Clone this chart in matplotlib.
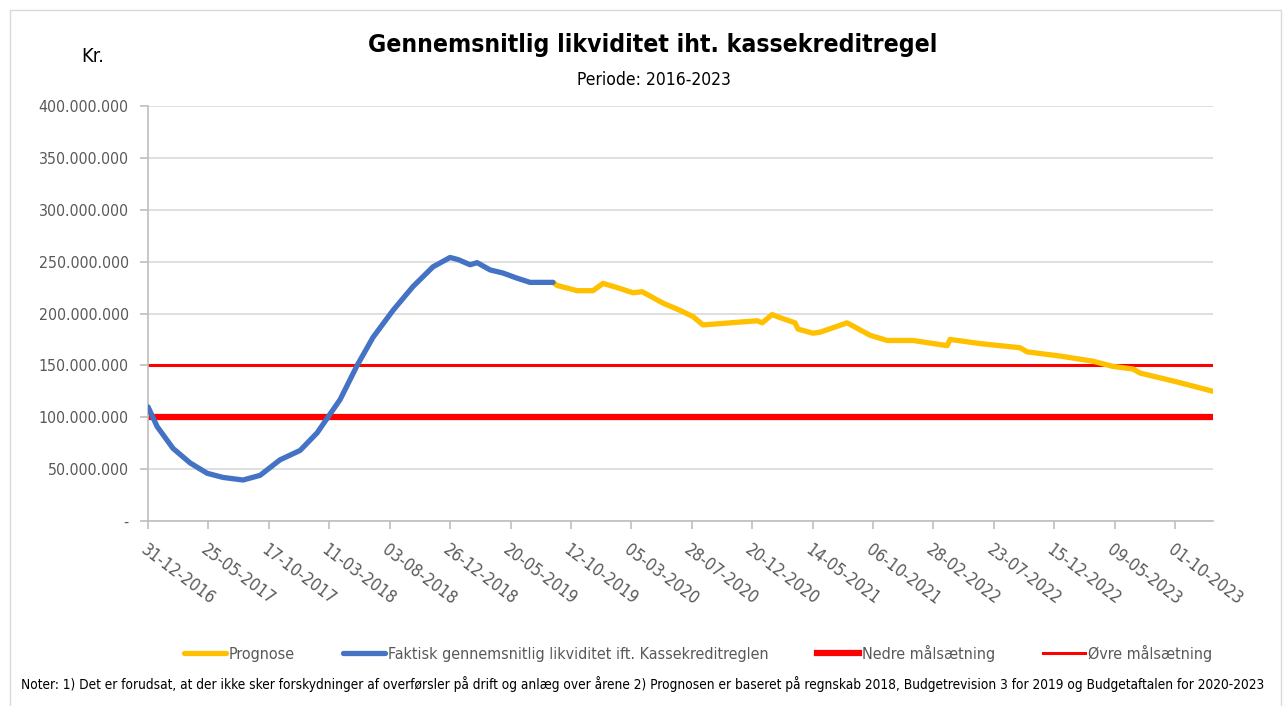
import numpy as np
import pandas as pd
import matplotlib.pyplot as plt
from matplotlib.ticker import FuncFormatter
from matplotlib.patches import Rectangle

plt.rcParams['font.family'] = ['DejaVu Sans']
plt.rcParams['font.stretch'] = 'condensed'

start = pd.Timestamp('2016-12-31')

# faktisk likviditet (dage efter 31-12-2016, mio. kr.)
faktisk_dage = [0, 22, 60, 101, 142, 180, 228, 269, 317, 365, 406, 430, 461, 502,
                540, 588, 636, 684, 725, 744, 773, 790, 821, 852, 886, 917, 972]
faktisk_mio = [110, 91, 70, 56, 46, 42, 39.5, 44, 59, 68, 85, 99, 117, 150,
               177, 203, 226, 245, 254, 252, 247, 249, 242, 239, 234, 230, 230]

# prognose
prognose_dage = [972, 982, 1030, 1068, 1092, 1126, 1164, 1186, 1236, 1277, 1308, 1332,
                 1397, 1462, 1474, 1498, 1517, 1553, 1560, 1596, 1613, 1678, 1733,
                 1774, 1836, 1918, 1925, 1997, 2093, 2110, 2189, 2268, 2316, 2364,
                 2381, 2470, 2556]
prognose_mio = [230, 227, 222, 222, 229, 225, 220, 221, 210, 203, 197, 189,
                191, 193, 191, 199, 196, 191, 185, 181, 182, 191, 179,
                174, 174, 169, 175, 171, 167, 163, 159, 154, 149, 146.5,
                142.6, 134, 125]

nedre = 100_000_000
oevre = 150_000_000

tick_labels = ['31-12-2016', '25-05-2017', '17-10-2017', '11-03-2018', '03-08-2018',
               '26-12-2018', '20-05-2019', '12-10-2019', '05-03-2020', '28-07-2020',
               '20-12-2020', '14-05-2021', '06-10-2021', '28-02-2022', '23-07-2022',
               '15-12-2022', '09-05-2023', '01-10-2023']

titel = 'Gennemsnitlig likviditet iht. kassekreditregel'
undertitel = 'Periode: 2016-2023'
note = ('Noter: 1) Det er forudsat, at der ikke sker forskydninger af overførsler på drift og anlæg over årene '
        '2) Prognosen er baseret på regnskab 2018, Budgetrevision 3 for 2019 og Budgetaftalen for 2020-2023')

fx = start + pd.to_timedelta(faktisk_dage, unit='D')
px = start + pd.to_timedelta(prognose_dage, unit='D')
fy = np.array(faktisk_mio) * 1e6
py = np.array(prognose_mio) * 1e6

fig = plt.figure(figsize=(12.88, 7.06), dpi=100)
renderer = fig.canvas.get_renderer()


# skriftstørrelse så teksten får samme bredde som i originalen (smal skrift)
def fit(s, width_px, **kw):
    t = fig.text(0, 0, s, fontsize=10, **kw)
    w = t.get_window_extent(renderer).width
    t.remove()
    return 10 * width_px / w


ax = fig.add_axes([148/1288, 1 - 521/706, (1213-148)/1288, (521-106)/706])

fig.patches.append(Rectangle((10/1288, -0.02), 1271/1288, 1.02 - 10/706, transform=fig.transFigure,
                             fill=False, edgecolor='#D9D9D9', linewidth=1))

ax.plot(px, py, color='#FFC000', linewidth=3.8, label='Prognose', zorder=3, solid_capstyle='round')
ax.plot(fx, fy, color='#4472C4', linewidth=3.8,
        label='Faktisk gennemsnitlig likviditet ift. Kassekreditreglen', zorder=4, solid_capstyle='round')
ax.axhline(nedre, color='#FF0000', linewidth=4.5, label='Nedre målsætning', zorder=2)
ax.axhline(oevre, color='#FF0000', linewidth=2.2, label='Øvre målsætning', zorder=2)

ax.set_xlim(start, start + pd.Timedelta(days=2556))
ax.set_ylim(0, 400_000_000)
ax.set_yticks(np.arange(0, 400_000_001, 50_000_000))
ax.yaxis.set_major_formatter(FuncFormatter(lambda v, p: '-' if v == 0 else f'{int(v):,}'.replace(',', '.')))

ytick_size = fit('400.000.000', 91)
xtick_size = fit('31-12-2016', 88)

ticks = pd.to_datetime(tick_labels, format='%d-%m-%Y')
ax.set_xticks(ticks)
ax.set_xticklabels(tick_labels, rotation=-37, ha='left', va='top', rotation_mode='anchor')

ax.grid(axis='y', color='#D9D9D9', linewidth=1.2)
ax.set_axisbelow(True)
for s in ['top', 'right']:
    ax.spines[s].set_visible(False)
for s in ['left', 'bottom']:
    ax.spines[s].set_color('#BFBFBF')
    ax.spines[s].set_linewidth(1.2)
ax.tick_params(axis='both', colors='#BFBFBF', labelcolor='#595959', length=6, width=1.2)
ax.tick_params(axis='y', labelsize=ytick_size, pad=8)
ax.tick_params(axis='x', labelsize=xtick_size, pad=8)

fig.text(653/1288, 1 - 45/706, titel, ha='center', va='center',
         fontsize=fit(titel, 563, fontweight='bold'), fontweight='bold', color='#000000')
fig.text(654/1288, 1 - 80/706, undertitel, ha='center', va='center',
         fontsize=fit(undertitel, 154), color='#000000')
fig.text(93/1288, 1 - 57/706, 'Kr.', ha='center', va='center', fontsize=fit('Kr.', 23), color='#000000')

leg_size = fit('Faktisk gennemsnitlig likviditet ift. Kassekreditreglen', 383)
em = leg_size * 100 / 72
fig.legend(loc='center', bbox_to_anchor=(698/1288, 1 - 653/706), ncol=4, frameon=False,
           fontsize=leg_size, handlelength=42/em, handletextpad=3/em, columnspacing=48/em,
           labelcolor='#595959')

fig.text(643/1288, 1 - 684/706, note, ha='center', va='center',
         fontsize=fit(note, 1243), color='#000000')

fig.savefig('out.png', dpi=100)
